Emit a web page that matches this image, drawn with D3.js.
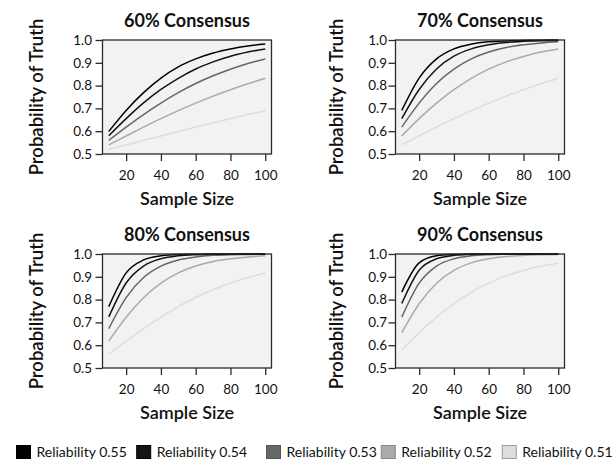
<!DOCTYPE html>
<html>
<head>
<meta charset="utf-8">
<script src="https://cdn.jsdelivr.net/npm/d3@7"></script>
<style>
  html, body { margin: 0; padding: 0; background: #ffffff; }
  svg { display: block; }
  text { font-family: Lato, "Open Sans", sans-serif; fill: #111; }
</style>
</head>
<body>
<svg id="chart" width="614" height="459"></svg>
<script>
// ---------------- data ----------------
const sampleSizes = [10, 20, 30, 40, 50, 60, 70, 80, 90, 100];
const reliabilityLabels = ["Reliability 0.55", "Reliability 0.54", "Reliability 0.53", "Reliability 0.52", "Reliability 0.51"];
const panelTitles = ["60% Consensus", "70% Consensus", "80% Consensus", "90% Consensus"];
const yTickValues = [0.5, 0.6, 0.7, 0.8, 0.9, 1.0];
const xTickValues = [20, 40, 60, 80, 100];

// series values: one row per reliability (0.55 ... 0.51), one column per sample size
const consensus60 = [
  [0.599, 0.691, 0.769, 0.833, 0.882, 0.917, 0.943, 0.961, 0.974, 0.982],
  [0.580, 0.655, 0.724, 0.783, 0.832, 0.873, 0.904, 0.929, 0.947, 0.961],
  [0.560, 0.618, 0.673, 0.723, 0.769, 0.809, 0.843, 0.872, 0.897, 0.917],
  [0.540, 0.579, 0.618, 0.655, 0.690, 0.723, 0.754, 0.782, 0.808, 0.832],
  [0.520, 0.540, 0.560, 0.579, 0.599, 0.618, 0.637, 0.655, 0.673, 0.690]
];
const consensus70 = [
  [0.691, 0.833, 0.917, 0.961, 0.982, 0.992, 0.996, 0.998, 0.999, 1.000],
  [0.655, 0.783, 0.873, 0.929, 0.961, 0.979, 0.989, 0.994, 0.997, 0.998],
  [0.618, 0.723, 0.809, 0.872, 0.917, 0.947, 0.967, 0.979, 0.987, 0.992],
  [0.579, 0.655, 0.723, 0.782, 0.832, 0.872, 0.904, 0.928, 0.947, 0.961],
  [0.540, 0.579, 0.618, 0.655, 0.690, 0.723, 0.754, 0.782, 0.808, 0.832]
];
const consensus80 = [
  [0.769, 0.917, 0.974, 0.992, 0.998, 0.999, 1.000, 1.000, 1.000, 1.000],
  [0.724, 0.873, 0.947, 0.979, 0.992, 0.997, 0.999, 0.999, 1.000, 1.000],
  [0.673, 0.809, 0.897, 0.947, 0.974, 0.987, 0.994, 0.997, 0.998, 0.999],
  [0.618, 0.723, 0.808, 0.872, 0.917, 0.947, 0.967, 0.979, 0.987, 0.992],
  [0.560, 0.618, 0.673, 0.723, 0.769, 0.809, 0.843, 0.872, 0.897, 0.917]
];
const consensus90 = [
  [0.833, 0.961, 0.992, 0.998, 1.000, 1.000, 1.000, 1.000, 1.000, 1.000],
  [0.783, 0.929, 0.979, 0.994, 0.998, 1.000, 1.000, 1.000, 1.000, 1.000],
  [0.723, 0.872, 0.947, 0.979, 0.992, 0.997, 0.999, 1.000, 1.000, 1.000],
  [0.655, 0.782, 0.872, 0.928, 0.961, 0.979, 0.989, 0.994, 0.997, 0.998],
  [0.579, 0.655, 0.723, 0.782, 0.832, 0.872, 0.904, 0.928, 0.947, 0.961]
];

// ---------------- styles / layout ----------------
const lineColors = ["#000000", "#141414", "#666666", "#aaaaaa", "#dddddd"];
const swatchStroke = ["#000000", "#000000", "#555555", "#888888", "#999999"];
const panelData = [consensus60, consensus70, consensus80, consensus90];

const colX = [102.5, 395.5];
const rowY = [40, 254];
const plotW = 169, plotH = 114;
const yLabelPad = [3.5, 1.5];
const yTitleGap = [60, 52.5];
const legendX = [16.5, 136.7, 266.5, 381.3, 502.3];

const svg = d3.select("#chart");
svg.append("rect").attr("width", 614).attr("height", 459).attr("fill", "#ffffff");

panelData.forEach((series, i) => {
  const col = i % 2, row = Math.floor(i / 2);
  const x0 = colX[col], y0 = rowY[row];
  const g = svg.append("g");

  const x = d3.scaleLinear().domain([6.4, 103.6]).range([x0, x0 + plotW]);
  const y = d3.scaleLinear().domain([0.5, 1.0]).range([y0 + plotH, y0]);

  // plot background
  g.append("rect")
    .attr("x", x0).attr("y", y0).attr("width", plotW).attr("height", plotH)
    .attr("fill", "#f2f2f2");

  // curves (lightest first, darkest on top)
  const line = d3.line()
    .x((d, k) => x(sampleSizes[k]))
    .y(d => y(d))
    .curve(d3.curveMonotoneX);
  series.map((vals, s) => ({ vals, s })).reverse().forEach(({ vals, s }) => {
    g.append("path")
      .attr("d", line(vals))
      .attr("fill", "none")
      .attr("stroke", lineColors[s])
      .attr("stroke-width", 1.5);
  });

  // frame
  g.append("rect")
    .attr("x", x0).attr("y", y0).attr("width", plotW).attr("height", plotH)
    .attr("fill", "none").attr("stroke", "#2a2a2a").attr("stroke-width", 1.3);

  // axes
  const yAxis = d3.axisLeft(y).tickValues(yTickValues).tickFormat(d3.format(".1f"))
    .tickSize(7).tickPadding(yLabelPad[col]);
  const ya = g.append("g").attr("transform", `translate(${x0},0)`).call(yAxis);
  const xAxis = d3.axisBottom(x).tickValues(xTickValues).tickFormat(d3.format("d"))
    .tickSize(7).tickPadding(9);
  const xa = g.append("g").attr("transform", `translate(0,${y0 + plotH})`).call(xAxis);
  [ya, xa].forEach(a => {
    a.select(".domain").remove();
    a.selectAll(".tick line").attr("stroke", "#2a2a2a").attr("stroke-width", 1.3);
    a.selectAll(".tick text").style("font-size", "13.5px").style("font-family", "Lato, sans-serif").attr("fill", "#111");
  });

  // titles
  g.append("text")
    .attr("x", x0 + plotW / 2).attr("y", y0 - 13.5)
    .attr("text-anchor", "middle")
    .style("font-size", "18px").style("font-weight", "700")
    .text(panelTitles[i]);

  g.append("text")
    .attr("x", x0 + plotW / 2).attr("y", y0 + plotH + 50.5)
    .attr("text-anchor", "middle")
    .style("font-size", "18px").style("font-weight", "600")
    .text("Sample Size");

  g.append("text")
    .attr("transform", `translate(${x0 - yTitleGap[col]},${y0 + plotH / 2}) rotate(-90)`)
    .attr("text-anchor", "middle")
    .style("font-size", "18.5px").style("font-weight", "600")
    .text("Probability of Truth");
});

// legend
const legend = svg.append("g");
reliabilityLabels.forEach((lab, s) => {
  legend.append("rect")
    .attr("x", legendX[s]).attr("y", 445.5).attr("width", 14).attr("height", 13)
    .attr("fill", lineColors[s]).attr("stroke", swatchStroke[s]).attr("stroke-width", 1);
  legend.append("text")
    .attr("x", legendX[s] + 20).attr("y", 457)
    .style("font-size", "14px")
    .text(lab);
});
</script>
</body>
</html>
